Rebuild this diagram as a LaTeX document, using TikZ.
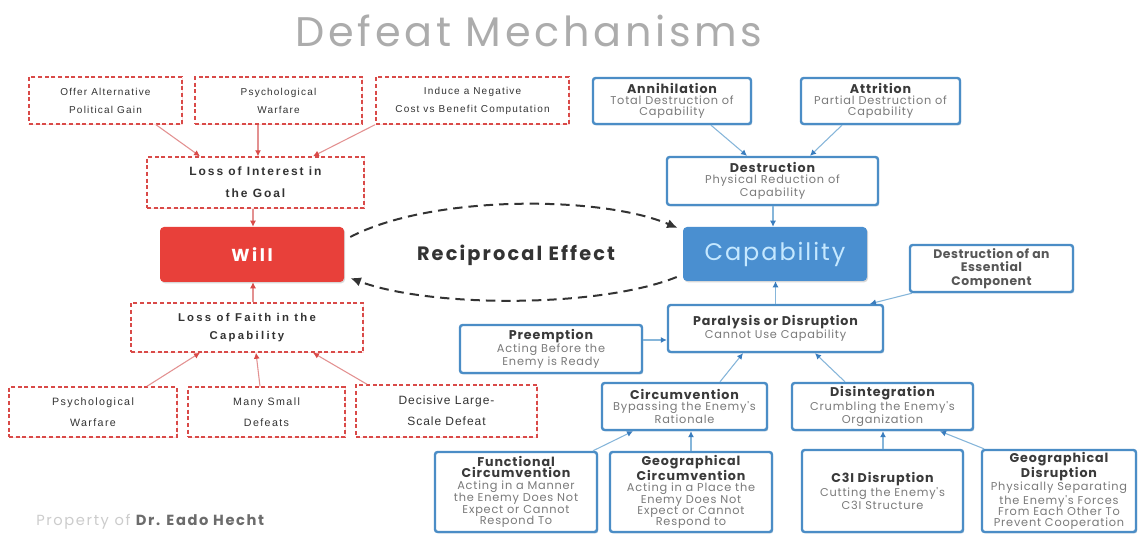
\documentclass[tikz,border=0pt]{standalone}
\usepackage{fontspec}
\setmainfont{Poppins}
\newfontfamily\arft{Liberation Sans}[LetterSpace=12]
\newfontfamily\arfm{Liberation Sans}[LetterSpace=13]
\newfontfamily\arfd{Liberation Sans}[LetterSpace=8]
\newfontfamily\arfi{Liberation Sans}[LetterSpace=16]
\newfontfamily\arff{Liberation Sans}[LetterSpace=20]
\newfontfamily\pti{Poppins}[LetterSpace=7]
\newfontfamily\psu{Poppins}[LetterSpace=7]
\newfontfamily\pes{Poppins}[LetterSpace=4]
\newfontfamily\pca{Poppins}[LetterSpace=8]
\newfontfamily\pre{Poppins}[LetterSpace=11]
\newfontfamily\ptt{Poppins}[LetterSpace=9]
\newfontfamily\pwi{Poppins}[LetterSpace=15]
\usetikzlibrary{arrows.meta,shadows,calc}
\definecolor{redd}{HTML}{D94A48}
\definecolor{redl}{HTML}{E39191}
\definecolor{willred}{HTML}{E8403A}
\definecolor{blueb}{HTML}{4B8DC6}
\definecolor{bluel}{HTML}{86B6DA}
\definecolor{bluea}{HTML}{3A7DBE}
\definecolor{capblue}{HTML}{4A8FD0}
\definecolor{captext}{HTML}{C5E8FF}
\definecolor{titc}{HTML}{3A3A3A}
\definecolor{subc}{HTML}{7A7A7A}
\definecolor{darkt}{HTML}{333333}
\newcommand\btitle[1]{{\pti\fontsize{9.5}{10.5}\selectfont\bfseries\color{titc}#1}}
\newcommand\bsub[1]{{\psu\fontsize{8.5}{8.5}\selectfont\color{subc}#1}}
\newcommand\bx[7]{\node[#6, minimum width={(#4-#2)*0.75pt}, minimum height={(#5-#3)*0.75pt}] (#1) at ({(#2+#4)/2},{(#3+#5)/2}) {#7};}
\begin{document}
\begin{tikzpicture}[x=0.75pt,y=-0.75pt,
  rbox/.style={draw=redd, dash pattern=on 3pt off 2pt, line width=1.1pt, fill=white, align=center, inner sep=1pt,
     font=\arft\fontsize{7.5}{13.5}\selectfont, text=darkt,
     drop shadow={shadow xshift=0.6pt, shadow yshift=-0.6pt, opacity=0.35, fill=red!35}},
  bbox/.style={draw=blueb, line width=1.8pt, rounded corners=2pt, fill=white, align=center, inner sep=1pt,
     font=\psu\fontsize{8.5}{8.5}\selectfont,
     drop shadow={shadow xshift=0.9pt, shadow yshift=-1.1pt, opacity=0.4, fill=blueb!60!gray}},
  rarr/.style={draw=redl, line width=0.8pt, -{Latex[length=4.5pt,width=4.5pt,color=redd]}},
  barr/.style={draw=bluel, line width=0.8pt, -{Latex[length=4.5pt,width=4.5pt,color=bluea]}},
  darr/.style={draw=darkt, line width=1.5pt, dash pattern=on 7pt off 4.5pt, -{Latex[length=8pt,width=7pt]}}
]
\useasboundingbox (0,0) rectangle (1139,534);
\fill[white] (0,0) rectangle (1139,534);

% title
\node[text=gray!65, font=\ptt\fontsize{31}{33}\selectfont] (title) at (529,31) {Defeat Mechanisms};

% ---- left (will) side ----
\bx{oa}{29}{77}{182}{124}{rbox}{Offer Alternative\\Political Gain}
\bx{pw}{195}{77}{362}{124}{rbox}{Psychological\\Warfare}
\bx{nc}{376}{77}{569}{124}{rbox}{Induce a Negative\\Cost vs Benefit Computation}
\bx{loi}{147}{157}{364}{208}{rbox,font=\arfi\bfseries\fontsize{9}{16.5}\selectfont}{Loss of Interest in\\the Goal}
\bx{will}{160}{227}{344}{282}{fill=willred, rounded corners=3pt, text=white, font=\pwi\bfseries\fontsize{13}{14}\selectfont,
   drop shadow={shadow xshift=0.8pt, shadow yshift=-1pt, opacity=0.3}}{Will}
\bx{lof}{131}{303}{363}{352}{rbox,font=\arff\bfseries\fontsize{8.5}{14}\selectfont}{Loss of Faith in the\\Capability}
\bx{pw2}{9}{387}{177}{437}{rbox,font=\arfm\fontsize{8}{15.5}\selectfont}{Psychological\\Warfare}
\bx{msd}{188}{387}{345}{437}{rbox,font=\arfm\fontsize{8}{15.5}\selectfont}{Many Small\\Defeats}
\bx{dls}{356}{385}{537}{437}{rbox,font=\arfd\fontsize{9}{16}\selectfont}{Decisive Large-\\Scale Defeat}

\draw[rarr] ($(oa.south)+(50.5,0)$) -- ($(loi.north)+(-55.5,0)$);
\draw[rarr] ($(pw.south)+(-20.5,0)$) -- ($(loi.north)+(2.5,0)$);
\draw[rarr] ($(nc.south)+(-97.5,0)$) -- ($(loi.north)+(57.5,0)$);
\draw[rarr] ($(loi.south)+(-2.5,0)$) -- ($(will.north)+(1,0)$);
\draw[rarr] ($(lof.north)+(6,0)$) -- ($(will.south)+(1,0)$);
\draw[rarr] ($(pw2.north)+(54,0)$) -- ($(lof.south)+(-47,0)$);
\draw[rarr] ($(msd.north)+(-6.5,0)$) -- ($(lof.south)+(9,0)$);
\draw[rarr] ($(dls.north)+(-79.5,0)$) -- ($(lof.south)+(66,0)$);

% ---- right (capability) side ----
\bx{ann}{593}{78}{751}{124}{bbox}{\btitle{Annihilation}\\\bsub{Total Destruction of}\\\bsub{Capability}}
\bx{att}{801}{78}{960}{124}{bbox}{\btitle{Attrition}\\\bsub{Partial Destruction of}\\\bsub{Capability}}
\bx{dest}{667}{157}{878}{205}{bbox}{\btitle{Destruction}\\\bsub{Physical Reduction of}\\\bsub{Capability}}
\bx{cap}{683}{227}{867}{281}{fill=capblue, rounded corners=3pt, text=captext, font=\pca\fontsize{18}{20}\selectfont,
   drop shadow={shadow xshift=0.8pt, shadow yshift=-1pt, opacity=0.3}}{Capability}
\bx{ess}{910}{245}{1073}{292}{bbox,font=\pes\bfseries\fontsize{9.3}{10}\selectfont, text=titc!85}{Destruction of an\\Essential\\Component}
\bx{par}{668}{305}{883}{352}{bbox}{\btitle{Paralysis or Disruption}\\\bsub{Cannot Use Capability}}
\bx{pre}{460}{325}{642}{373}{bbox}{\btitle{Preemption}\\\bsub{Acting Before the}\\\bsub{Enemy is Ready}}
\bx{circ}{602}{383}{767}{430}{bbox}{\btitle{Circumvention}\\\bsub{Bypassing the Enemy's}\\\bsub{Rationale}}
\bx{dis}{792}{383}{973}{430}{bbox}{\btitle{Disintegration}\\\bsub{Crumbling the Enemy's}\\\bsub{Organization}}
\bx{fun}{435}{452}{597}{532}{bbox}{\btitle{Functional}\\\btitle{Circumvention}\\\bsub{Acting in a Manner}\\\bsub{the Enemy Does Not}\\\bsub{Expect or Cannot}\\\bsub{Respond To}}
\bx{geoc}{610}{452}{772}{532}{bbox}{\btitle{Geographical}\\\btitle{Circumvention}\\\bsub{Acting in a Place the}\\\bsub{Enemy Does Not}\\\bsub{Expect or Cannot}\\\bsub{Respond to}}
\bx{c3i}{802}{450}{963}{532}{bbox}{\btitle{C3I Disruption}\\\bsub{Cutting the Enemy's}\\\bsub{C3I Structure}}
\bx{geod}{982}{450}{1136}{532}{bbox}{\btitle{Geographical}\\\btitle{Disruption}\\\bsub{Physically Separating}\\\bsub{the Enemy's Forces}\\\bsub{From Each Other To}\\\bsub{Prevent Cooperation}}

\draw[barr] ($(ann.south)+(39,0)$) -- ($(dest.north)+(-25.5,0)$);
\draw[barr] ($(att.south)+(-38.5,0)$) -- ($(dest.north)+(37.5,0)$);
\draw[barr] ($(dest.south)+(0.5,0)$) -- ($(cap.north)+(-2,0)$);
\draw[barr] (par.north) -- ($(cap.south)+(0.5,0)$);
\draw[barr] ($(ess.south)+(-79.5,0)$) -- ($(par.north)+(94.5,0)$);
\draw[barr] ($(pre.east)+(0,-9)$) -- ($(par.west)+(0,11.5)$);
\draw[barr] ($(circ.north)+(35.5,0)$) -- ($(par.south)+(-32.5,0)$);
\draw[barr] ($(dis.north)+(-37.5,0)$) -- ($(par.south)+(39.5,0)$);
\draw[barr] ($(fun.north)+(77,0)$) -- ($(circ.south)+(-51.5,0)$);
\draw[barr] (geoc.north) -- ($(circ.south)+(6.5,0)$);
\draw[barr] ($(c3i.north)+(0.5,0)$) -- ($(dis.south)+(0.5,0)$);
\draw[barr] ($(geod.north)+(-75,0)$) -- ($(dis.south)+(57.5,0)$);

% reciprocal effect
\node[text=darkt, font=\pre\bfseries\fontsize{14.5}{16}\selectfont] (rec) at (516,255) {Reciprocal Effect};
\draw[darr] ($(will.east)+(6,-17.5)$) .. controls +(80,-42) and +(-78,-33) .. ($(cap.west)+(-5,-26)$);
\draw[darr] ($(cap.west)+(-6,23)$) .. controls +(-77,31) and +(80,30) .. ($(will.east)+(6,23.5)$);

% credit
\node[anchor=west, font=\pre\fontsize{11}{13}\selectfont, inner sep=0pt] (cred) at (36,522)
  {{\color{gray!40}Property of }{\bfseries\color{gray!85!black}Dr. Eado Hecht}};
\end{tikzpicture}
\end{document}
